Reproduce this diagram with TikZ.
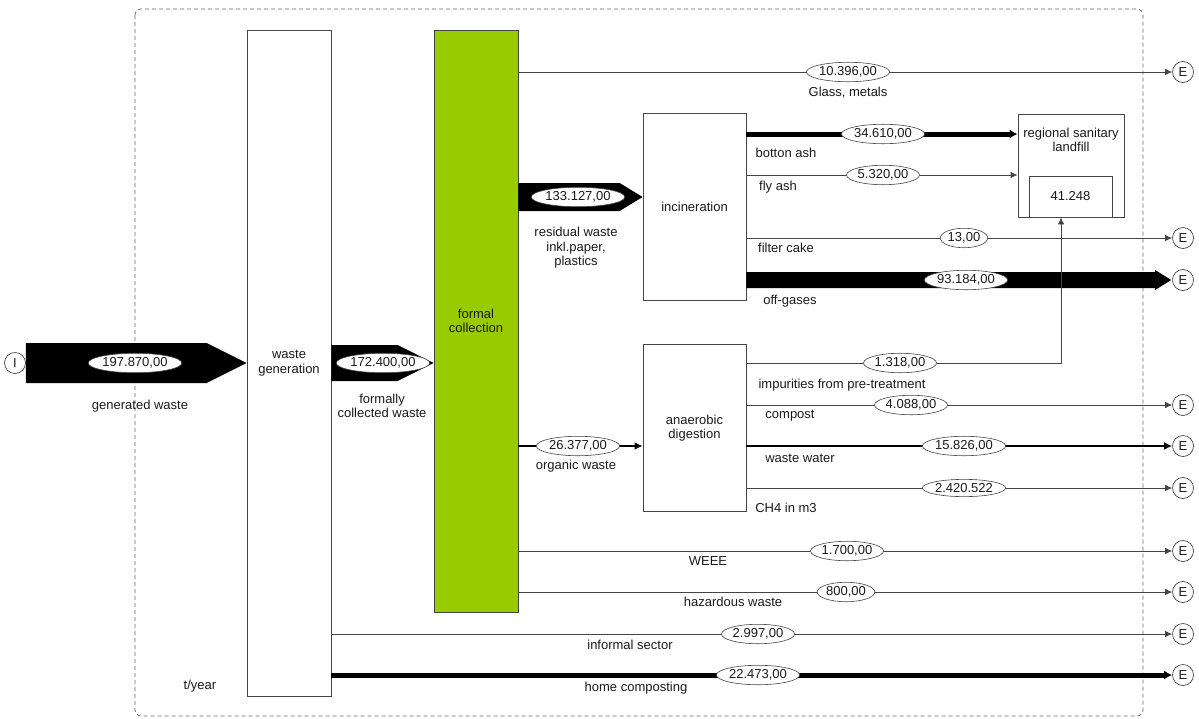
\documentclass[tikz,border=0pt]{standalone}
\usepackage{fontspec}
\setmainfont{Liberation Sans}
\usetikzlibrary{arrows.meta,calc,shapes.geometric}
\definecolor{fcgreen}{HTML}{99CC00}
\definecolor{edge}{HTML}{444444}
\definecolor{ink}{HTML}{1A1A1A}

% broad black flow arrow: start, tip, half body, half head, head length
\newcommand\bigflow[5]{%
  \fill ($(#1)+(0,-#3)$) -- ($(#2)+(-#5,-#3)$) -- ($(#2)+(-#5,-#4)$) -- (#2)
    -- ($(#2)+(-#5,#4)$) -- ($(#2)+(-#5,#3)$) -- ($(#1)+(0,#3)$) -- cycle;}

\begin{document}
\begin{tikzpicture}[x=1pt,y=-1pt,
  font=\fontsize{13}{14.5}\selectfont,
  every node/.style={text=ink},
  proc/.style={draw=edge, line width=0.8pt, fill=white, inner sep=0pt},
  endc/.style={circle, draw=edge, line width=0.7pt, minimum size=21pt, inner sep=0pt},
  val/.style={ellipse, draw=edge, line width=0.6pt, fill=white, inner xsep=0.5pt, inner ysep=1.5pt},
  lbl/.style={align=center, inner sep=0pt},
  thinflow/.style={draw=edge, line width=0.8pt, -{Latex[length=7pt,width=6.5pt]}},
  midflow/.style={draw=black, line width=2.8pt, -{Latex[length=8pt,width=8pt]}},
  heavyflow/.style={draw=black, line width=5pt, -{Latex[length=8pt,width=9pt]}},
]
\useasboundingbox (0,0) rectangle (1199,718);

% system boundary
\draw[edge!80, line width=0.8pt, dash pattern=on 4pt off 3pt, rounded corners=6pt]
  (135,9) rectangle (1143,716);

% processes
\node[proc, minimum width=84pt, minimum height=666pt, align=center] (wg) at (289,363) {waste\\generation};
\node[proc, fill=fcgreen, minimum width=84pt, minimum height=582pt, align=center] (fc) at (476,321) {formal\\collection};
\node[proc, minimum width=103pt, minimum height=187pt] (inc) at (694.5,206.5) {incineration};
\node[proc, minimum width=103pt, minimum height=167pt, align=center] (ad) at (694.5,428) {anaerobic\\digestion};
\node[proc, minimum width=106pt, minimum height=103pt] (lf) at (1071,165.5) {};
\node[lbl] (lft) at (1071,140) {regional sanitary\\landfill};
\node[proc, minimum width=83pt, minimum height=41pt] (lfin) at (1070.5,196.5) {41.248};

% import / export markers
\node[endc] (I) at (15,363) {I};
\node[endc] (E1) at (1183,72) {E};
\node[endc] (E2) at (1183,238) {E};
\node[endc] (E3) at (1183,280) {E};
\node[endc] (E4) at (1183,405) {E};
\node[endc] (E5) at (1183,446) {E};
\node[endc] (E6) at (1183,488) {E};
\node[endc] (E7) at (1183,551) {E};
\node[endc] (E8) at (1183,592) {E};
\node[endc] (E9) at (1183,634) {E};
\node[endc] (E10) at (1183,675) {E};

% row coordinates
\coordinate (rres) at (0,197);
\coordinate (rash) at (0,134);
\coordinate (rfly) at (0,175);
\coordinate (rimp) at (1061,363);

\coordinate (a1) at (I.east);
\coordinate (a2) at (wg.east |- I);
\coordinate (a3) at (fc.east |- rres);
\coordinate (a3t) at (inc.west |- rres);
\coordinate (a4) at (inc.east |- E3);
\coordinate (a4t) at ($(E3.west)+(-1,0)$);
\coordinate (wgin) at (wg.west |- I);
\coordinate (fcin) at (fc.west |- I);

% broad flows
\bigflow{a1}{wgin}{20}{20}{40}
\bigflow{a2}{fcin}{18}{18}{36}
\bigflow{a3}{a3t}{14}{14}{23}
\bigflow{a4}{a4t}{8}{10}{16}

% flows out of formal collection
\draw[thinflow] (fc.east |- E1) -- (E1);
\draw[midflow] (fc.east |- E5) -- (ad.west |- E5);
\draw[thinflow] (fc.east |- E7) -- (E7);
\draw[thinflow] (fc.east |- E8) -- (E8);

% flows out of waste generation
\draw[thinflow] (wg.east |- E9) -- (E9);
\draw[heavyflow] (wg.east |- E10) -- (E10);

% incineration outputs
\draw[heavyflow] (inc.east |- rash) -- (lf.west |- rash);
\draw[thinflow] (inc.east |- rfly) -- (lf.west |- rfly);
\draw[thinflow] (inc.east |- E2) -- (E2);

% anaerobic digestion outputs
\draw[thinflow] (ad.east |- rimp) -- (rimp) -- (rimp |- lfin.south);
\draw[thinflow] (ad.east |- E4) -- (E4);
\draw[midflow] (ad.east |- E5) -- (E5);
\draw[thinflow] (ad.east |- E6) -- (E6);

% flow values
\node[val] (v1) at (135,363) {197.870,00};
\node[val] (v2) at (383,363) {172.400,00};
\node[val] (v3) at (578,197) {133.127,00};
\node[val] (v4) at (848,72) {10.396,00};
\node[val] (v5) at (883,134) {34.610,00};
\node[val] (v6) at (883,175) {5.320,00};
\node[val] (v7) at (964,238) {13,00};
\node[val] (v8) at (966,280) {93.184,00};
\node[val] (v9) at (900,363) {1.318,00};
\node[val] (v10) at (911,405) {4.088,00};
\node[val] (v11) at (964,446) {15.826,00};
\node[val] (v12) at (964,488) {2.420.522};
\node[val] (v13) at (578,446) {26.377,00};
\node[val] (v14) at (847,551) {1.700,00};
\node[val] (v15) at (846,592) {800,00};
\node[val] (v16) at (758,634) {2.997,00};
\node[val] (v17) at (758,675) {22.473,00};

% flow names
\node[lbl] (n1) at (140,406) {generated waste};
\node[lbl] (n2) at (382,406) {formally\\collected waste};
\node[lbl] (n3) at (576,248) {residual waste\\inkl.paper,\\plastics};
\node[lbl] (n4) at (848,93) {Glass, metals};
\node[lbl] (n5) at (786,153) {botton ash};
\node[lbl] (n6) at (778,187) {fly ash};
\node[lbl] (n7) at (786,248) {filter cake};
\node[lbl] (n8) at (790,301) {off-gases};
\node[lbl] (n9) at (842,385) {impurities from pre-treatment};
\node[lbl] (n10) at (790,416) {compost};
\node[lbl] (n11) at (800,458) {waste water};
\node[lbl] (n12) at (786,508) {CH4 in m3};
\node[lbl] (n13) at (576,466) {organic waste};
\node[lbl] (n14) at (708,561) {WEEE};
\node[lbl] (n15) at (733,602) {hazardous waste};
\node[lbl] (n16) at (630,645) {informal sector};
\node[lbl] (n17) at (636,688) {home composting};
\node[lbl] (unit) at (200,686) {t/year};
\end{tikzpicture}
\end{document}
